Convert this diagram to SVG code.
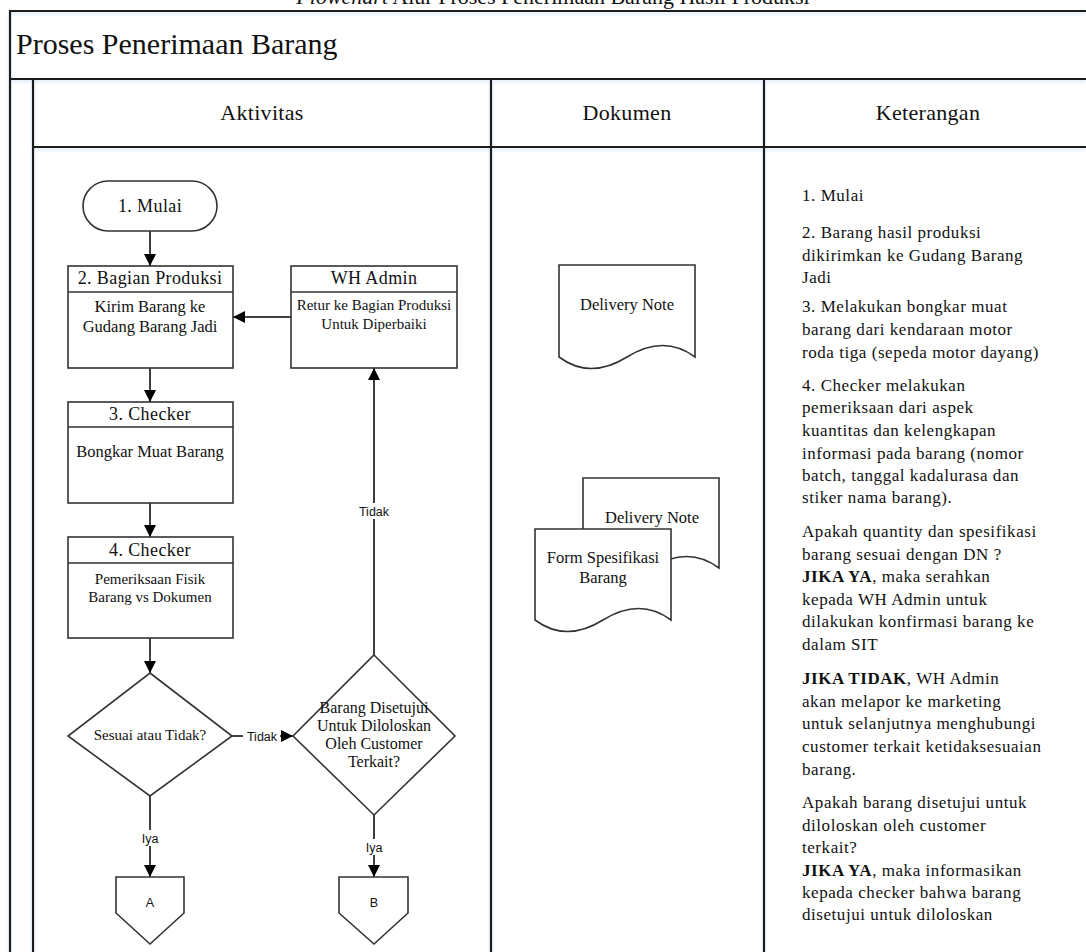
<svg xmlns="http://www.w3.org/2000/svg" width="1086" height="952" viewBox="0 0 1086 952">
  <defs>
    <marker id="arrow" viewBox="0 0 12 12" refX="12" refY="6" markerWidth="12" markerHeight="12" markerUnits="userSpaceOnUse" orient="auto">
      <path d="M0,0 L12,6 L0,12 Z" fill="#000"/>
    </marker>
    <filter id="soft" x="-5%" y="-5%" width="110%" height="110%">
      <feDropShadow dx="0" dy="2" stdDeviation="1.5" flood-color="#9ec3ea" flood-opacity="0.45"/>
    </filter>
  </defs>
  <style>
    .frame { fill: none; stroke: #1a1a1a; stroke-width: 2.2; }
    .shape { fill: #fff; stroke: #333; stroke-width: 1.6; }
    .edge { fill: none; stroke: #000; stroke-width: 1.5; }
    .serif { font-family: "Liberation Serif", "Times New Roman", serif; fill: #111; }
    .sans { font-family: "Liberation Sans", Arial, sans-serif; fill: #111; font-size: 12.5px; }
    .mid { text-anchor: middle; }
    .head { font-size: 22px; letter-spacing: 0.3px; }
    .title { font-size: 18px; letter-spacing: 0.4px; }
    .node { font-size: 16.5px; }
    .note { font-size: 17px; letter-spacing: 0.55px; }
  </style>

  <rect width="1086" height="952" fill="#fff"/>

  <!-- page caption, running off the top edge -->
  <text class="serif mid" x="553" y="4" font-size="22"><tspan font-style="italic">Flowchart</tspan> Alur Proses Penerimaan Barang Hasil Produksi</text>

  <!-- swimlane frame -->
  <g id="frame" filter="url(#soft)">
    <path class="frame" d="M10,952 V11 H1086"/>
    <line class="frame" x1="10" y1="79" x2="1086" y2="79"/>
    <line class="frame" x1="33" y1="79" x2="33" y2="952"/>
    <line class="frame" x1="33" y1="147" x2="1086" y2="147"/>
    <line class="frame" x1="491" y1="79" x2="491" y2="952"/>
    <line class="frame" x1="764" y1="79" x2="764" y2="952"/>
  </g>
  <text class="serif" x="16" y="54" font-size="30">Proses Penerimaan Barang</text>
  <text class="serif mid head" x="262" y="120">Aktivitas</text>
  <text class="serif mid head" x="627" y="120">Dokumen</text>
  <text class="serif mid head" x="928" y="120">Keterangan</text>

  <!-- connectors -->
  <g id="connectors">
    <line class="edge" x1="150" y1="231" x2="150" y2="266" marker-end="url(#arrow)"/>
    <line class="edge" x1="291" y1="317" x2="233" y2="317" marker-end="url(#arrow)"/>
    <line class="edge" x1="150" y1="368" x2="150" y2="402" marker-end="url(#arrow)"/>
    <line class="edge" x1="150" y1="503" x2="150" y2="537" marker-end="url(#arrow)"/>
    <line class="edge" x1="150" y1="638" x2="150" y2="673" marker-end="url(#arrow)"/>
    <line class="edge" x1="232" y1="736" x2="293" y2="736" marker-end="url(#arrow)"/>
    <line class="edge" x1="374" y1="655" x2="374" y2="368" marker-end="url(#arrow)"/>
    <line class="edge" x1="150" y1="796" x2="150" y2="877" marker-end="url(#arrow)"/>
    <line class="edge" x1="374" y1="815" x2="374" y2="877" marker-end="url(#arrow)"/>
    <rect x="358" y="503" width="32" height="16" fill="#fff"/>
    <text class="sans mid" x="374" y="516">Tidak</text>
    <rect x="243" y="729" width="37" height="15" fill="#fff"/>
    <text class="sans mid" x="262" y="741">Tidak</text>
    <rect x="138" y="830" width="24" height="16" fill="#fff"/>
    <text class="sans mid" x="150" y="843">Iya</text>
    <rect x="362" y="839" width="24" height="16" fill="#fff"/>
    <text class="sans mid" x="374" y="852">Iya</text>
  </g>

  <!-- activity lane -->
  <g id="start">
    <rect class="shape" x="83" y="181" width="134" height="50" rx="25"/>
    <text class="serif mid title" x="150" y="212">1. Mulai</text>
  </g>
  <g id="produksi">
    <rect class="shape" x="68" y="266" width="165" height="102"/>
    <line class="shape" x1="68" y1="292" x2="233" y2="292"/>
    <text class="serif mid title" x="150" y="284">2. Bagian Produksi</text>
    <text class="serif mid node" x="150" y="312">Kirim Barang ke</text>
    <text class="serif mid node" x="150" y="332">Gudang Barang Jadi</text>
  </g>
  <g id="wh-admin">
    <rect class="shape" x="291" y="266" width="166" height="102"/>
    <line class="shape" x1="291" y1="292" x2="457" y2="292"/>
    <text class="serif mid title" x="374" y="284">WH Admin</text>
    <text class="serif mid" x="374" y="310" font-size="15">Retur ke Bagian Produksi</text>
    <text class="serif mid" x="374" y="329" font-size="15">Untuk Diperbaiki</text>
  </g>
  <g id="checker-bongkar">
    <rect class="shape" x="68" y="402" width="165" height="101"/>
    <line class="shape" x1="68" y1="427" x2="233" y2="427"/>
    <text class="serif mid title" x="150" y="420">3. Checker</text>
    <text class="serif mid node" x="150" y="457">Bongkar Muat Barang</text>
  </g>
  <g id="checker-periksa">
    <rect class="shape" x="68" y="537" width="165" height="101"/>
    <line class="shape" x1="68" y1="563" x2="233" y2="563"/>
    <text class="serif mid title" x="150" y="556">4. Checker</text>
    <text class="serif mid" x="150" y="584" font-size="15">Pemeriksaan Fisik</text>
    <text class="serif mid" x="150" y="602" font-size="15">Barang vs Dokumen</text>
  </g>
  <g id="cek-sesuai">
    <polygon class="shape" points="150,673 232,736 150,796 68,736"/>
    <text class="serif mid" x="150" y="740" font-size="15">Sesuai atau Tidak?</text>
  </g>
  <g id="cek-customer">
    <polygon class="shape" points="374,655 455,736 374,815 293,736"/>
    <text class="serif mid" x="374" y="713" font-size="16">Barang Disetujui</text>
    <text class="serif mid" x="374" y="731" font-size="16">Untuk Diloloskan</text>
    <text class="serif mid" x="374" y="749" font-size="16">Oleh Customer</text>
    <text class="serif mid" x="374" y="767" font-size="16">Terkait?</text>
  </g>
  <g id="ref-a">
    <polygon class="shape" points="116,877 184,877 184,913 150,944 116,913"/>
    <text class="sans mid" x="150" y="907" font-size="13">A</text>
  </g>
  <g id="ref-b">
    <polygon class="shape" points="339,877 408,877 408,913 374,944 339,913"/>
    <text class="sans mid" x="374" y="907" font-size="13">B</text>
  </g>

  <!-- document lane -->
  <g id="doc-dn">
    <path class="shape" d="M559,265 H695 V357 Q664,334 627,357 Q590,380 559,357 Z"/>
    <text class="serif mid" x="627" y="310" font-size="16.5">Delivery Note</text>
  </g>
  <g id="doc-dn-2">
    <path class="shape" d="M583,478 H719 V568 Q688,545 651,568 Q614,591 583,568 Z"/>
    <text class="serif mid" x="652" y="523" font-size="16.5">Delivery Note</text>
  </g>
  <g id="doc-form">
    <path class="shape" d="M535,529 H671 V620 Q640,597 603,620 Q566,643 535,620 Z"/>
    <text class="serif mid" x="603" y="563" font-size="16.5">Form Spesifikasi</text>
    <text class="serif mid" x="603" y="583" font-size="16.5">Barang</text>
  </g>

  <!-- description lane -->
  <g id="keterangan" class="serif note">
    <text x="802" y="201">1. Mulai</text>
    <text x="802" y="238">2. Barang hasil produksi</text>
    <text x="802" y="261">dikirimkan ke Gudang Barang</text>
    <text x="802" y="283">Jadi</text>
    <text x="802" y="312">3. Melakukan bongkar muat</text>
    <text x="802" y="335">barang dari kendaraan motor</text>
    <text x="802" y="358">roda tiga (sepeda motor dayang)</text>
    <text x="802" y="391">4. Checker melakukan</text>
    <text x="802" y="413">pemeriksaan dari aspek</text>
    <text x="802" y="436">kuantitas dan kelengkapan</text>
    <text x="802" y="459">informasi pada barang (nomor</text>
    <text x="802" y="481">batch, tanggal kadalurasa dan</text>
    <text x="802" y="503">stiker nama barang).</text>
    <text x="802" y="537">Apakah quantity dan spesifikasi</text>
    <text x="802" y="560">barang sesuai dengan DN ?</text>
    <text x="802" y="582"><tspan font-weight="bold">JIKA YA</tspan>, maka serahkan</text>
    <text x="802" y="605">kepada WH Admin untuk</text>
    <text x="802" y="627">dilakukan konfirmasi barang ke</text>
    <text x="802" y="650">dalam SIT</text>
    <text x="802" y="684"><tspan font-weight="bold">JIKA TIDAK</tspan>, WH Admin</text>
    <text x="802" y="707">akan melapor ke marketing</text>
    <text x="802" y="729">untuk selanjutnya menghubungi</text>
    <text x="802" y="752">customer terkait ketidaksesuaian</text>
    <text x="802" y="775">barang.</text>
    <text x="802" y="808">Apakah barang disetujui untuk</text>
    <text x="802" y="831">diloloskan oleh customer</text>
    <text x="802" y="853">terkait?</text>
    <text x="802" y="876"><tspan font-weight="bold">JIKA YA</tspan>, maka informasikan</text>
    <text x="802" y="898">kepada checker bahwa barang</text>
    <text x="802" y="920">disetujui untuk diloloskan</text>
  </g>
</svg>
